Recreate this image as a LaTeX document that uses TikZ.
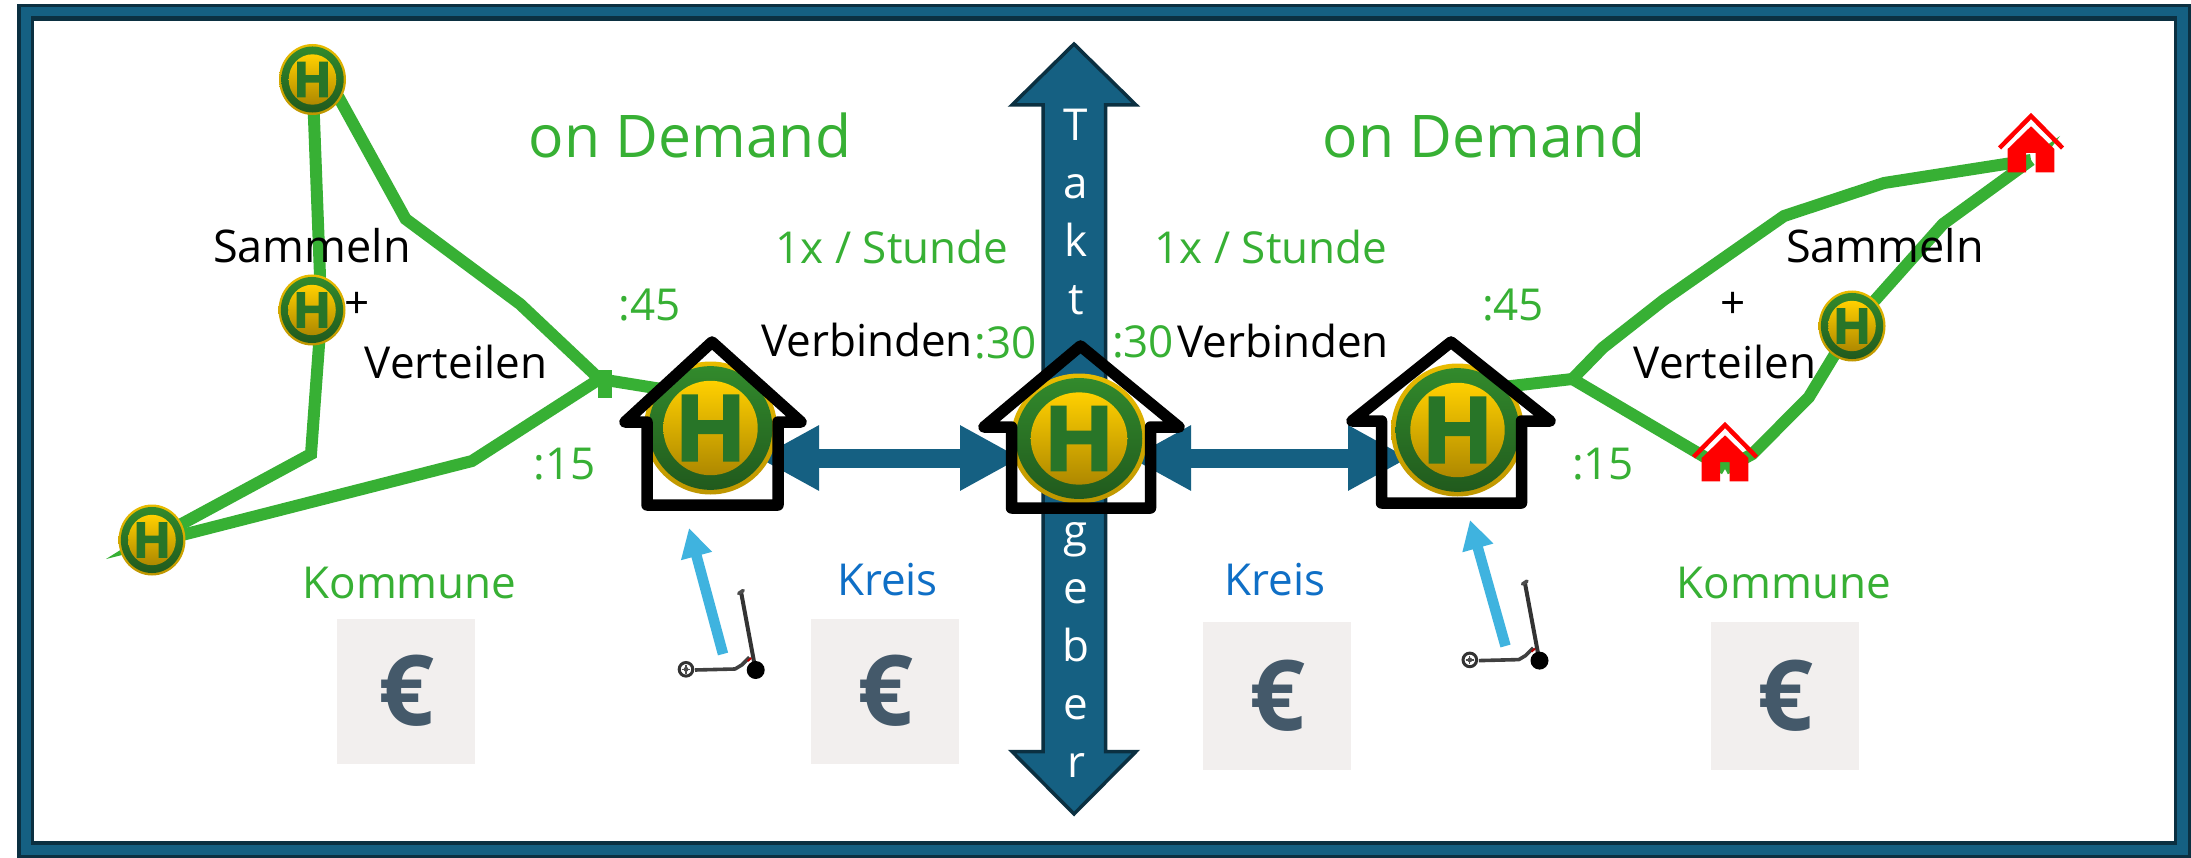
\documentclass[tikz,border=0pt]{standalone}
\usepackage{fontspec}
\setmainfont{Open Sans}
\newfontfamily\hfont[BoldFeatures={FakeBold=3}]{Liberation Sans}
\newfontfamily\eurofont{Open Sans}
\usetikzlibrary{shapes.geometric,arrows.meta}
\definecolor{ogreen}{HTML}{37B034}
\definecolor{fblue}{HTML}{156082}
\definecolor{fdark}{HTML}{0B3041}
\definecolor{kreisblue}{HTML}{0F6FC6}
\definecolor{tilebg}{HTML}{F2EFEE}
\definecolor{eurocol}{HTML}{44596A}
\definecolor{skyarrow}{HTML}{3FB3DF}
\definecolor{stoprt}{HTML}{E9BC00}
\definecolor{stoprb}{HTML}{BE9600}
\definecolor{stopgt}{HTML}{328A2C}
\definecolor{stopgb}{HTML}{215A1D}
\definecolor{stopyt}{HTML}{FFD000}
\definecolor{stopyb}{HTML}{AE8800}
\definecolor{stopH}{HTML}{287528}
\pgfdeclarelayer{back}
\pgfsetlayers{back,main}
\tikzset{
  stoprim/.style={ellipse,inner sep=0pt,top color=stoprt,bottom color=stoprb,draw=none},
  stopring/.style={ellipse,inner sep=0pt,top color=stopgt,bottom color=stopgb,draw=none},
  stopyel/.style={ellipse,inner sep=0pt,top color=stopyt,bottom color=stopyb,draw=none},
  route/.style={draw=ogreen,line width=12pt,line join=miter},
  hubarrow/.style={draw=fblue,line width=19pt,{Triangle[length=61pt,width=61pt]}-{Triangle[length=61pt,width=61pt]}},
  bigarrow/.style={fill=fblue,draw=fdark,line width=3.5pt,line join=miter},
  househ/.style={draw=black,line width=11.5pt,line join=round,line cap=round},
  scootarrow/.style={draw=skyarrow,line width=10.5pt,-{Triangle[length=29pt,width=30pt]}},
  tile/.style={fill=tilebg,draw=none},
  txtgreen/.style={anchor=base,inner sep=0pt,text=ogreen,font=\fontsize{44}{52}\selectfont},
  txtblack/.style={anchor=base,inner sep=0pt,text=black,font=\fontsize{44}{52}\selectfont},
  txtblue/.style={anchor=base,inner sep=0pt,text=kreisblue,font=\fontsize{44}{52}\selectfont},
  txtbig/.style={anchor=base,inner sep=0pt,text=ogreen,font=\fontsize{58.8}{68}\selectfont},
  eurotxt/.style={anchor=center,inner sep=0pt,text=eurocol,font=\eurofont\bfseries\fontsize{98}{100}\selectfont},
}
\newcommand\busstop[5]{%
  \pgfmathsetmacro\stopfs{0.705*#5}%
  \node[stoprim,minimum width=#4pt,minimum height=#5pt] (#1) at (#2,#3) {};
  \node[stopring,minimum width={0.93*#4pt},minimum height={0.93*#5pt}] (#1r) at (#2,#3) {};
  \node[stopyel,minimum width={0.71*#4pt},minimum height={0.71*#5pt}] (#1y) at (#2,#3) {};
  \node[inner sep=0pt,text=stopH,font=\hfont\bfseries\fontsize{\stopfs}{\stopfs}\selectfont] (#1t) at (#2,#3) {H};
}
\newcommand\redhouse[3]{% name, apex x, apex y
  \begin{scope}[shift={(#2,#3)}]
    \coordinate (#1) at (0,44);
    \draw[red,line width=4.5pt,line join=miter] (-31.5,33) -- (0,1) -- (31.5,33);
    \fill[red] (0,11.3) -- (23.3,34) -- (23.3,57.3) -- (4.7,57.3) -- (4.7,38) -- (-5,38) -- (-5,57.3) -- (-23.3,57.3) -- (-23.3,34) -- cycle;
  \end{scope}
}
\newcommand\scooter[2]{%
  \begin{scope}[shift={(#1,#2)}]
    \draw[black!75,line width=3.6pt,line join=round] (-60.7,0) -- (-20.7,-1) -- (-14,-5) -- (-6.3,-12.7);
    \draw[black!80,line width=4pt] (-0.7,-3) -- (-14.7,-78.3);
    \draw[black!70,line width=3.6pt,line cap=round] (-17,-76.5) -- (-12.5,-79.5);
    \draw[red!70!black,line width=2pt] (-8,-9) -- (-4.5,-12);
    \fill[black] (0,0) circle (9pt);
    \draw[black!80,line width=3pt] (-69.7,-0.7) circle (6.8pt);
    \fill[black!70] (-69.7,-0.7) circle (2.4pt);
    \draw[black!70,line width=1.2pt] (-74,-0.7) -- (-65.4,-0.7) (-69.7,-5) -- (-69.7,3.6);
  \end{scope}
}
\begin{document}
\begin{tikzpicture}[x=1pt,y=-1pt]
\useasboundingbox (0,0) rectangle (2191,858);
% stops
\busstop{sa}{312.5}{79.5}{67}{71}
\busstop{sb}{312}{310}{67}{71}
\busstop{sc}{152}{540}{67}{71}
\busstop{hubl}{710.5}{428}{133}{133}
\busstop{hubm}{1079}{438.5}{136}{130}
\busstop{hubr}{1457.5}{430}{133}{133}
\busstop{sd}{1852}{326}{67}{71}
\begin{pgfonlayer}{back}
  % frame
  \fill[white] (0,0) rectangle (2191,858);
  \fill[fdark] (17,4) rectangle (2191,858);
  \fill[fblue] (20.5,7.5) rectangle (2187.5,854.5);
  \fill[fdark] (30.6,16.5) rectangle (2177,844.5);
  \fill[white] (33.7,20.8) rectangle (2174,841);
  % vertical arrow
  \draw[bigarrow] (1074,44) -- (1136,105) -- (1105.5,105) -- (1105.5,751.5) -- (1136,751.5) -- (1074,814) -- (1012,751.5) -- (1043,751.5) -- (1043,105) -- (1012,105) -- cycle;
  \node[inner sep=0pt,anchor=center,align=center,text=white,font=\fontsize{44}{57.9}\selectfont] (takt) at (1076,443.5) {T\\a\\k\\t\\~\\~\\~\\g\\e\\b\\e\\r};
  % horizontal arrows
  \coordinate (hla) at (758,458);
  \coordinate (hlb) at (1021,458);
  \coordinate (hra) at (1130,458);
  \coordinate (hrb) at (1409,458);
  \draw[hubarrow] (hla) -- (hlb);
  \draw[hubarrow] (hra) -- (hrb);
  % left routes
  \coordinate (jl) at (599.5,379);
  \coordinate (jr) at (1572.4,379);
  \coordinate (hle) at (680,392);
  \coordinate (hre) at (1485,389);
  \draw[route] (sa.center) -- (320,276) -- (319,345) -- (311,454) -- (sc.center);
  \draw[route] (sa.center) -- (339,98) -- (405.6,219) -- (520,304) -- (jl) -- (hle);
  \draw[route] (sc.center) -- (186,534) -- (472,461) -- (jl);
  \fill[ogreen] (598,370) rectangle (612,398);
  \fill[ogreen] (106,559) -- (122,549) -- (122,555) -- cycle;
  % right routes
  \coordinate (rha) at (2031,160);
  \coordinate (rhb) at (1725,469);
  \draw[route] (hre) -- (jr);
  \draw[route] (jr) -- (1603,347.6) -- (1663.7,300) -- (1784,216) -- (1884,183) -- (rha);
  \draw[route] (jr) -- (rhb);
  \draw[route] (rhb) -- (1752.4,454) -- (1809,397) -- (sd.center);
  \draw[route] (sd.center) -- (1943,224) -- (rha);
  \fill[ogreen] (2040,150) -- (2060,136) -- (2048,152) -- cycle;
\end{pgfonlayer}
% red houses
\redhouse{rh1}{2031}{115}
\redhouse{rh2}{1725}{424}
% black houses
\draw[househ] (625,422) -- (712,342) -- (801,422) -- (778,422) -- (778,505) -- (647,505) -- (647,422) -- cycle;
\draw[househ] (984,427) -- (1080.5,346) -- (1179,427) -- (1150.5,427) -- (1150.5,508) -- (1011.5,508) -- (1011.5,427) -- cycle;
\draw[househ] (1352,421) -- (1451,342) -- (1550,421) -- (1521.5,421) -- (1521.5,503) -- (1381.5,503) -- (1381.5,421) -- cycle;
% scooters
\coordinate (tsl) at (723,654);
\coordinate (hsl) at (689,528);
\coordinate (tsr) at (1505.5,646);
\coordinate (hsr) at (1470,520);
\draw[scootarrow] (tsl) -- (hsl);
\draw[scootarrow] (tsr) -- (hsr);
\scooter{755.7}{670}
\scooter{1539.5}{660.6}
% tiles
\fill[tile] (337,618.5) rectangle (475,763.5);
\fill[tile] (811,618.5) rectangle (959,763.5);
\fill[tile] (1203,622) rectangle (1351,769.6);
\fill[tile] (1711,622) rectangle (1859.4,770);
\node[eurotxt] (e1) at (406.5,691) {€};
\node[eurotxt] (e2) at (885,691) {€};
\node[eurotxt] (e3) at (1277,696) {€};
\node[eurotxt] (e4) at (1785,696) {€};
% texts
\node[txtbig] (od1) at (690,157.6) {on Demand};
\node[txtbig] (od2) at (1484,157.6) {on Demand};
\node[txtblack,font=\fontsize{45}{52}\selectfont] (sam1) at (312,263) {Sammeln};
\node[txtblack] (plus1) at (357,319) {+};
\node[txtblack] (ver1) at (456,378) {Verteilen};
\node[txtblack,font=\fontsize{45}{52}\selectfont] (sam2) at (1885,263) {Sammeln};
\node[txtblack] (plus2) at (1733,319) {+};
\node[txtblack] (ver2) at (1725,378) {Verteilen};
\node[txtgreen] (t45l) at (649.5,320) {:45};
\node[txtgreen] (t15l) at (565,479) {:15};
\node[txtgreen] (t45r) at (1513,320) {:45};
\node[txtgreen] (t15r) at (1603,479) {:15};
\node[txtblack] (vb1) at (867,356) {Verbinden};
\node[txtblack] (vb2) at (1283,357) {Verbinden};
\node[txtgreen] (t30l) at (1005.5,358.5) {:30};
\node[txtgreen] (t30r) at (1143,357) {:30};
\node[txtgreen] (st1) at (892,264) {1x / Stunde};
\node[txtgreen] (st2) at (1271,264) {1x / Stunde};
\node[txtgreen] (k1) at (409.5,598) {Kommune};
\node[txtgreen] (k2) at (1784,598) {Kommune};
\node[txtblue] (kr1) at (887.5,595) {Kreis};
\node[txtblue] (kr2) at (1275,595) {Kreis};
\end{tikzpicture}
\end{document}
